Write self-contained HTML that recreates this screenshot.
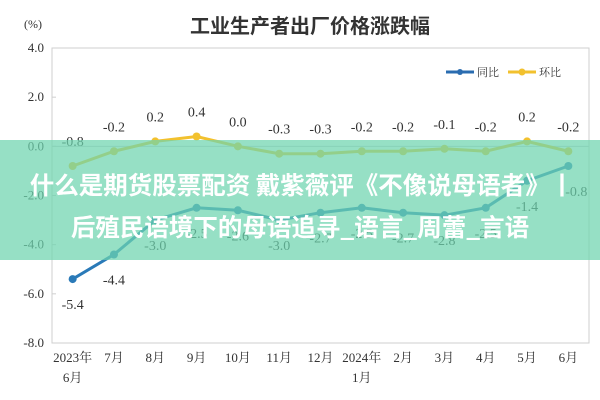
<!DOCTYPE html>
<html><head><meta charset="utf-8"><style>
html,body{margin:0;padding:0;width:600px;height:400px;overflow:hidden;background:#fff}
svg text{font-family:"Liberation Serif","Noto Serif CJK SC",serif}
</style></head><body>
<svg id="chart" width="600" height="400" xmlns="http://www.w3.org/2000/svg">
<text x="310" y="33" text-anchor="middle" font-size="20" font-weight="bold" fill="#333" style="font-family:'Noto Sans CJK SC',sans-serif">工业生产者出厂价格涨跌幅</text>
<text x="24" y="28" font-size="12" fill="#333">(%)</text>
<rect x="52" y="48" width="537" height="295" fill="none" stroke="#cfcfcf" stroke-width="1"/>
<g id="axes"></g>
<g id="series"></g>
<g>
<g><line x1="446" y1="72" x2="474" y2="72" stroke="#2a6cb0" stroke-width="3"/><circle cx="460" cy="72" r="3" fill="#2a6cb0"/><text x="477" y="76" font-size="11" fill="#333">同比</text></g>
<g><line x1="508" y1="72" x2="536" y2="72" stroke="#f2c12e" stroke-width="3"/><circle cx="522" cy="72" r="3.5" fill="#f2c12e"/><text x="539" y="76" font-size="11" fill="#333">环比</text></g>
</g>
<rect x="0" y="140" width="600" height="120" fill="rgba(110,212,175,0.72)"/>
<text x="302" y="194" text-anchor="middle" font-size="24.5" font-weight="bold" fill="#fff" style="font-family:'Noto Sans CJK SC',sans-serif">什么是期货股票配资 戴紫薇评《不像说母语者》丨</text>
<text x="300" y="236" text-anchor="middle" font-size="24.5" font-weight="bold" fill="#fff" style="font-family:'Noto Sans CJK SC',sans-serif">后殖民语境下的母语追寻_语言_周蕾_言语</text>
</svg>
<script>
const categories=["2023年|6月","7月","8月","9月","10月","11月","12月","2024年|1月","2月","3月","4月","5月","6月"];
const yoyValues=[-5.4,-4.4,-3.0,-2.5,-2.6,-3.0,-2.7,-2.5,-2.7,-2.8,-2.5,-1.4,-0.8];
const momValues=[-0.8,-0.2,0.2,0.4,0.0,-0.3,-0.3,-0.2,-0.2,-0.1,-0.2,0.2,-0.2];
const yTicks=[4,2,0,-2,-4,-6,-8];
const NS="http://www.w3.org/2000/svg";
const X0=52,X1=589,Y0=48,Y1=343,YMAX=4,YMIN=-8;
const xs=i=>X0+(X1-X0)*(i+0.5)/categories.length;
const ys=v=>Y0+(YMAX-v)/(YMAX-YMIN)*(Y1-Y0);
function mk(tag,attrs,parent,txt){const e=document.createElementNS(NS,tag);for(const k in attrs)e.setAttribute(k,attrs[k]);if(txt!=null)e.textContent=txt;parent.appendChild(e);return e;}
const ax=document.getElementById('axes'),sr=document.getElementById('series');
mk('line',{x1:X0,y1:ys(0),x2:X1,y2:ys(0),stroke:'#cfcfcf'},ax);
yTicks.forEach(t=>{const e=mk('text',{x:X0-8,y:ys(t)+4,'text-anchor':'end','font-size':13,fill:'#333'},ax,t.toFixed(1));


mk('line',{x1:X0,y1:ys(t),x2:X0+4,y2:ys(t),stroke:'#cfcfcf'},ax);});
categories.forEach((c,i)=>{const p=c.split('|');p.forEach((s,j)=>{const e=mk('text',{x:xs(i),y:362+j*20,'text-anchor':'middle','font-size':13,fill:'#333'},ax,s);

});});
function series(vals,color,name,off){
const pts=vals.map((v,i)=>xs(i)+','+ys(v)).join(' ');
const l=mk('polyline',{points:pts,fill:'none',stroke:color,'stroke-width':3},sr);


vals.forEach((v,i)=>{const c=mk('circle',{cx:xs(i),cy:ys(v),r:4,fill:color},sr);


const t=mk('text',{x:xs(i)+(name==='yoy'&&i===categories.length-1?8:0),y:ys(v)+off,'text-anchor':'middle','font-size':14,fill:'#333'},sr,v.toFixed(1));

});}
series(momValues,'#f2c12e','mom',-20);
series(yoyValues,'#2a7ab8','yoy',30);
</script>
</body></html>
